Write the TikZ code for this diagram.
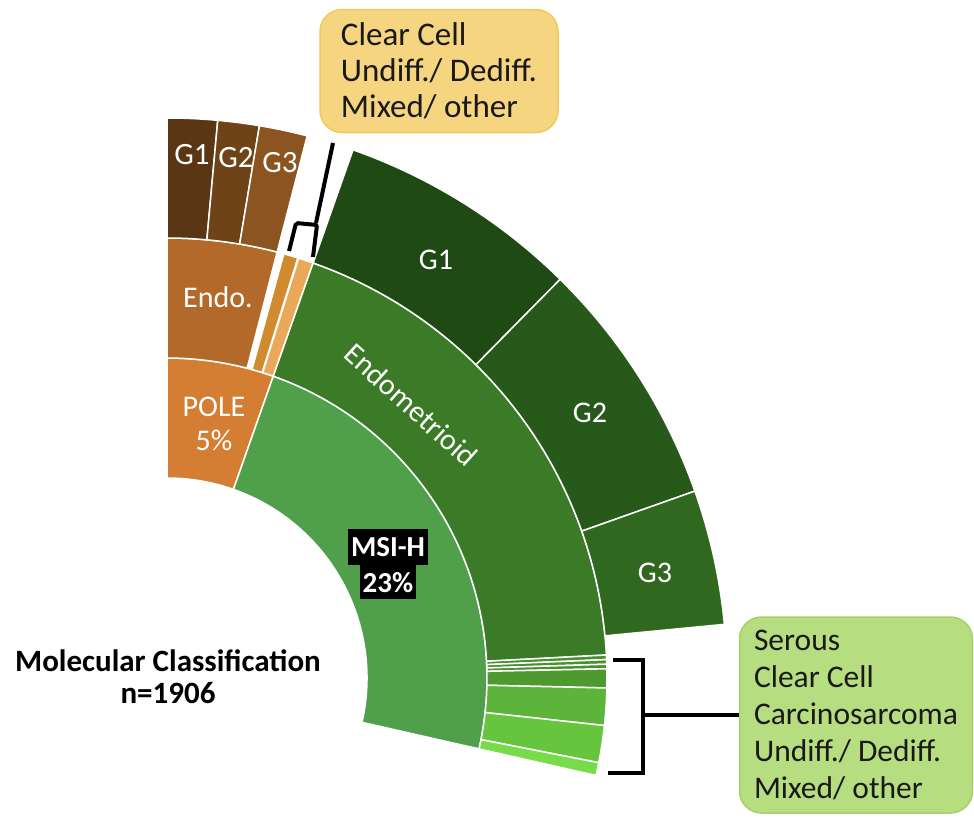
\documentclass[tikz,border=0pt]{standalone}
\usepackage{fontspec}
\setmainfont{Carlito}
\usetikzlibrary{positioning}
\definecolor{pole}{HTML}{D37E32}
\definecolor{msi}{HTML}{4F9F4B}
\definecolor{endob}{HTML}{B2692A}
\definecolor{orA}{HTML}{D28A2E}
\definecolor{orB}{HTML}{EAA95A}
\definecolor{endom}{HTML}{3B7A26}
\definecolor{gsA}{HTML}{4A8F30}
\definecolor{gsB}{HTML}{4F9A2E}
\definecolor{gsC}{HTML}{5DB43A}
\definecolor{gsD}{HTML}{66C43E}
\definecolor{gsE}{HTML}{78DC4A}
\definecolor{bGone}{HTML}{5A3614}
\definecolor{bGtwo}{HTML}{6F4318}
\definecolor{bGthree}{HTML}{8B5420}
\definecolor{gGone}{HTML}{1F4A13}
\definecolor{gGtwo}{HTML}{27591A}
\definecolor{gGthree}{HTML}{30681F}
\definecolor{goldbox}{HTML}{F6D580}
\definecolor{goldedge}{HTML}{F1C85C}
\definecolor{greenbox}{HTML}{B6DD80}
\definecolor{greenedge}{HTML}{A5D168}

\begin{document}
\begin{tikzpicture}[x=1pt,y=-1pt,
  seg/.style={draw=white,line width=1.5pt},
  lbl/.style={text=white,font=\fontsize{30}{34}\selectfont},
  msibox/.style={text=white,fill=black,inner xsep=3pt,inner ysep=1pt,
    font=\bfseries\fontsize{29}{32}\selectfont},
  callout/.style={rounded corners=22pt,line width=1.5pt,align=left,text=black!90},
  bracket/.style={line width=4pt}]
\useasboundingbox (0,0) rectangle (974,817);
\coordinate (O) at (167,678);

% rings: start/end angle, inner/outer radius, colour
\foreach \a/\b/\ri/\ro/\c in {90/70.6/200/320/pole, 70.6/-12.8/200/320/msi,
  90/75.5/320/440/endob, 74.6/72.7/320/440/orA, 72.6/70.6/320/440/orB,
  70.6/3/320/440/endom, 3/2.4/320/440/gsA, 2.4/1.8/320/440/gsA, 1.8/1.2/320/440/gsA,
  1.2/-1.3/320/440/gsB, -1.3/-6.2/320/440/gsC, -6.2/-11.1/320/440/gsD, -11.1/-12.8/320/440/gsE,
  90/84.8/440/560/bGone, 84.8/80.5/440/560/bGtwo, 80.5/75.5/440/560/bGthree,
  70.6/45.4/440/560/gGone, 45.4/19.5/440/560/gGtwo, 19.5/5.5/440/560/gGthree}
  \filldraw[seg,fill=\c] ([shift={(O)}]\a:\ri pt) arc[start angle=\a,end angle=\b,radius=\ri pt]
    -- ([shift={(O)}]\b:\ro pt) arc[start angle=\b,end angle=\a,radius=\ro pt] -- cycle;

\node[lbl,font=\fontsize{31}{34}\selectfont] (bgone) at (192,155) {G1};
\node[lbl,font=\fontsize{31}{34}\selectfont] (bgtwo) at (236,158) {G2};
\node[lbl,font=\fontsize{31}{34}\selectfont] (bgthree) at (280,163) {G3};
\node[lbl] (endo) at (218,297) {Endo.};
\node[lbl,align=center] (polel) at (214,424) {POLE\\5\%};
\node[lbl] (ggone) at (436,260) {G1};
\node[lbl] (ggtwo) at (590,413) {G2};
\node[lbl] (ggthree) at (655,573) {G3};
\node[lbl,rotate=-42] (endoml) at (411,405) {Endometrioid};
\node[msibox,minimum height=36pt] (msil) at (388,547) {MSI-H};
\node[msibox,minimum height=34pt,below=0pt of msil] (msip) {23\%};

\node[font=\bfseries\fontsize{31}{32}\selectfont,align=center] (title) at (168,677)
  {Molecular Classification\\n=1906};

\node[callout,fill=goldbox,draw=goldedge,minimum width=238pt,minimum height=123pt,
  font=\fontsize{33}{36}\selectfont] (topbox) at (439,71)
  {Clear Cell\\Undiff./ Dediff.\\Mixed/ other};
\node[callout,fill=greenbox,draw=greenedge,minimum width=233pt,minimum height=196pt,
  font=\fontsize{31.5}{37}\selectfont] (lowbox) at (856,715)
  {Serous\\Clear Cell\\Carcinosarcoma\\Undiff./ Dediff.\\Mixed/ other};

% brackets
\coordinate (tstem) at (333,143);
\coordinate (tfork) at (316,223);
\draw[bracket] (tstem) -- (tfork);
\draw[bracket,rounded corners=2pt] (289,251) -- (296,223) -- (317,225) -- (313,257);
\coordinate (btop) at (613,660);
\coordinate (bbot) at (608,773);
\coordinate (bmid) at (643,715);
\draw[bracket] (btop) -- ++(30,0) |- (bbot);
\draw[bracket] (bmid) -- (lowbox.west);
\end{tikzpicture}
\end{document}
